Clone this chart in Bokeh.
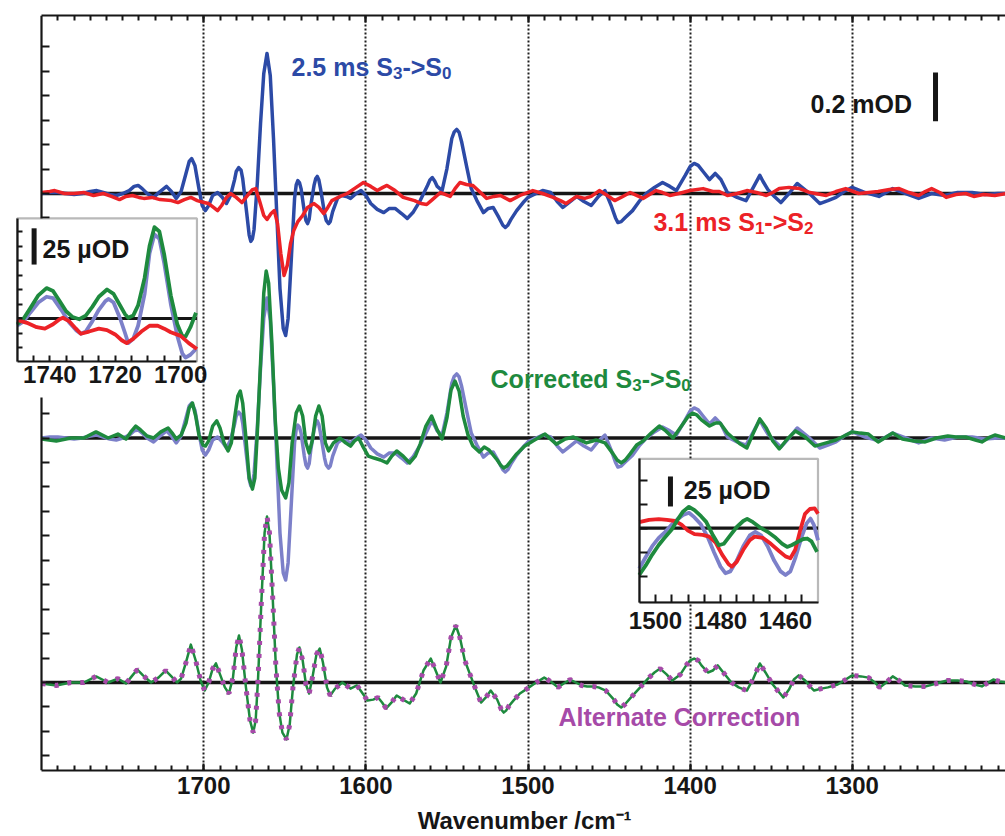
from bokeh.plotting import figure
from bokeh.models import Range1d, LinearAxis, FixedTicker, Grid, Label, BoxAnnotation
from bokeh.embed import file_html
from bokeh.resources import INLINE
from bokeh.core.properties import value

# ---------------------------------------------------------------------------
# Difference spectra: (wavenumber / cm-1, difference absorbance / mOD)
# ---------------------------------------------------------------------------
s3s0_2p5ms = [
    (1800, 0.000), (1795, 0.004), (1790, 0.004), (1785, 0.000), (1780, -0.004), (1775, 0.000),
    (1770, 0.008), (1766, 0.012), (1762, 0.004), (1758, -0.004), (1754, -0.008), (1750, 0.000),
    (1746, 0.012), (1743, 0.029), (1740.5, 0.033), (1738, 0.020), (1735, 0.000), (1731, -0.016),
    (1727, 0.008), (1723, 0.029), (1720, 0.008), (1717, -0.020), (1714, 0.008), (1711, 0.082),
    (1709, 0.131), (1707.5, 0.143), (1705.5, 0.115), (1703, 0.020), (1701, -0.049), (1699, -0.070),
    (1697, -0.049), (1694.5, -0.008), (1691.5, 0.004), (1688.5, -0.016), (1686, -0.041),
    (1683.5, -0.008), (1681, 0.057), (1680, 0.090), (1678.5, 0.106), (1677, 0.095), (1676, 0.061),
    (1673.5, -0.082), (1672, -0.170), (1671, -0.196), (1670, -0.185), (1669, -0.147), (1667, 0.041),
    (1665, 0.286), (1663, 0.491), (1661, 0.573), (1659, 0.483), (1657, 0.225), (1655, -0.082),
    (1653, -0.389), (1651, -0.552), (1649.5, -0.581), (1648, -0.511), (1646, -0.266),
    (1644, -0.020), (1643, 0.035), (1642, 0.053), (1641, 0.045), (1640, 0.020), (1638, -0.074),
    (1637, -0.110), (1636, -0.123), (1635, -0.105), (1634, -0.049), (1632, 0.033), (1631, 0.060),
    (1630, 0.070), (1629, 0.055), (1628, 0.020), (1625.5, -0.082), (1624.5, -0.110), (1623, -0.123),
    (1622, -0.115), (1620.5, -0.074), (1617.5, -0.020), (1615, -0.008), (1612, -0.012),
    (1609.5, -0.020), (1606, 0.000), (1603, 0.012), (1600, -0.008), (1597, -0.041), (1593, -0.065),
    (1589, -0.078), (1585.5, -0.061), (1582, -0.061), (1578, -0.082), (1574.5, -0.102),
    (1571, -0.078), (1566.5, -0.029), (1562, 0.033), (1560.5, 0.055), (1559, 0.065),
    (1557.5, 0.050), (1556, 0.029), (1553, 0.012), (1550, 0.102), (1547, 0.225), (1545.5, 0.252),
    (1544, 0.262), (1542.5, 0.250), (1541, 0.213), (1538, 0.115), (1535, 0.020), (1531.5, -0.029),
    (1527.5, -0.078), (1524.5, -0.061), (1521.5, -0.057), (1518, -0.098), (1515.5, -0.130),
    (1514, -0.139), (1512.5, -0.130), (1510.5, -0.106), (1507, -0.070), (1503, -0.037),
    (1500, -0.016), (1495, 0.000), (1491, 0.012), (1486, 0.004), (1482, -0.033), (1478.5, -0.057),
    (1474, -0.033), (1470, -0.012), (1465.5, -0.033), (1461, -0.049), (1456.5, -0.012),
    (1452.5, 0.012), (1448.5, -0.053), (1446, -0.100), (1444.5, -0.119), (1442.5, -0.115),
    (1440, -0.098), (1435.5, -0.070), (1431, -0.029), (1427, 0.000), (1422, 0.025), (1417, 0.045),
    (1412.5, 0.029), (1408.5, 0.012), (1403, 0.074), (1400, 0.110), (1397.5, 0.123), (1395, 0.115),
    (1392, 0.090), (1388, 0.057), (1384.5, 0.082), (1381, 0.057), (1377, 0.004), (1371, -0.016),
    (1365.5, -0.029), (1361, 0.025), (1357, 0.074), (1355, 0.049), (1352, 0.016), (1348, -0.012),
    (1344, -0.037), (1339, 0.000), (1334, 0.041), (1327, 0.004), (1320, -0.041), (1315, -0.029),
    (1310, -0.016), (1305, 0.008), (1300, 0.025), (1292, 0.004), (1283.5, -0.012), (1275, 0.020),
    (1267, 0.000), (1259, -0.020), (1251, 0.000), (1243, -0.008), (1235, 0.004), (1226, 0.004),
    (1218, -0.004), (1210, 0.000), (1205, 0.000),
]

s1s2_3p1ms = [
    (1800, 0.004), (1795, 0.008), (1792, 0.012), (1786, 0.000), (1780, 0.000), (1774, 0.004),
    (1768, -0.008), (1762, 0.000), (1757, -0.012), (1752, -0.025), (1748, -0.012), (1744, -0.008),
    (1740, -0.016), (1737, -0.020), (1732, -0.016), (1727, -0.025), (1720, -0.029), (1716, -0.037),
    (1712, -0.025), (1708, -0.016), (1704, -0.029), (1700, -0.037), (1697, -0.041), (1694, -0.057),
    (1691.5, -0.070), (1689, -0.049), (1686, -0.016), (1683.5, 0.000), (1680, -0.016),
    (1676.5, -0.037), (1673, -0.008), (1670, 0.016), (1668, 0.020), (1665.5, -0.033), (1663, -0.090),
    (1661, -0.106), (1658.5, -0.082), (1656.5, -0.070), (1654.5, -0.123), (1652.5, -0.245),
    (1650.5, -0.335), (1648.5, -0.294), (1646.5, -0.205), (1644.5, -0.151), (1642, -0.115),
    (1639, -0.090), (1636, -0.057), (1632, -0.041), (1629, -0.057), (1626, -0.082), (1623.5, -0.057),
    (1621, -0.029), (1616, -0.012), (1611.5, 0.000), (1606, 0.025), (1601.5, 0.045), (1597, 0.029),
    (1593, 0.012), (1589.5, 0.025), (1587, 0.033), (1582, 0.012), (1577, -0.016), (1570, -0.029),
    (1566, -0.041), (1562.5, -0.045), (1559, -0.025), (1554, 0.004), (1548, -0.012), (1545, 0.020),
    (1542, 0.045), (1538, 0.037), (1534, 0.033), (1530, 0.008), (1525.5, -0.020), (1521, -0.012),
    (1517, -0.008), (1511, -0.029), (1505, -0.008), (1497, 0.012), (1491, 0.000), (1484.5, -0.016),
    (1480, -0.029), (1476.5, -0.041), (1473, -0.025), (1470, -0.012), (1465, -0.020), (1461, -0.012),
    (1456, 0.012), (1451, -0.008), (1446.5, -0.029), (1441.5, -0.012), (1437, 0.004), (1433, -0.008),
    (1429, -0.020), (1425, -0.004), (1421, 0.012), (1417, 0.004), (1412.5, -0.008), (1407, 0.000),
    (1400, 0.012), (1392, 0.020), (1386, 0.008), (1382, 0.008), (1377, -0.008), (1371, 0.000),
    (1365, 0.012), (1359, 0.004), (1353, -0.008), (1349, 0.004), (1345, 0.020), (1339, 0.025),
    (1332.5, 0.020), (1326, 0.004), (1316, -0.008), (1310, 0.008), (1304, 0.020), (1296, 0.000),
    (1290, 0.004), (1284, 0.008), (1277, 0.016), (1271, 0.020), (1265, 0.004), (1259, -0.008),
    (1255, 0.008), (1251, 0.020), (1246, 0.004), (1242, -0.016), (1236, -0.004), (1230, 0.000),
    (1225, -0.012), (1219, -0.004), (1212, -0.008), (1205, 0.000),
]

corrected_s3s0 = [
    (1800, -0.004), (1791, -0.012), (1782, 0.000), (1774, 0.000), (1766.5, 0.025), (1759, 0.000),
    (1753, 0.016), (1748, -0.004), (1745, 0.025), (1742, 0.049), (1739, 0.033), (1735, 0.008),
    (1731, 0.000), (1726.5, 0.025), (1722, 0.041), (1719.5, 0.020), (1717, -0.004), (1714, 0.012),
    (1711, 0.061), (1709, 0.123), (1707, 0.143), (1705, 0.090), (1703, 0.012), (1700.5, -0.029),
    (1699, -0.033), (1697, -0.012), (1694.5, 0.049), (1692, 0.070), (1690, 0.041), (1687.5, -0.020),
    (1685, -0.053), (1683, -0.020), (1681, 0.082), (1679, 0.172), (1677.5, 0.192), (1676, 0.143),
    (1674, 0.000), (1672, -0.164), (1670, -0.209), (1668.5, -0.164), (1667, 0.020), (1665, 0.307),
    (1663, 0.593), (1661.5, 0.683), (1660, 0.634), (1658, 0.389), (1656, 0.082), (1654, -0.123),
    (1652, -0.213), (1649.5, -0.245), (1647.5, -0.184), (1645.5, -0.020), (1643, 0.102),
    (1641, 0.131), (1639, 0.090), (1637, -0.020), (1635, -0.061), (1633, -0.008), (1631, 0.090),
    (1629, 0.131), (1627, 0.090), (1625, -0.020), (1623, -0.053), (1620, -0.020), (1616, 0.000),
    (1612.5, -0.020), (1609.5, -0.033), (1607, -0.012), (1604.5, 0.000), (1602, -0.033),
    (1598.5, -0.074), (1595, -0.082), (1591, -0.090), (1587, -0.102), (1584, -0.074), (1581, -0.053),
    (1577, -0.074), (1573, -0.102), (1569.5, -0.074), (1566.5, -0.025), (1563, 0.049),
    (1559.5, 0.090), (1556, 0.033), (1553, -0.004), (1550, 0.082), (1547.5, 0.196), (1545, 0.233),
    (1542.5, 0.192), (1540, 0.090), (1537, 0.012), (1534, -0.033), (1530, -0.057), (1527, -0.037),
    (1524, -0.049), (1519, -0.090), (1517, -0.110), (1515, -0.123), (1513, -0.115), (1511, -0.098),
    (1507, -0.065), (1502, -0.033), (1497, -0.012), (1489.5, 0.016), (1482.5, -0.025),
    (1477, -0.004), (1472, 0.004), (1468, -0.008), (1464, -0.020), (1458, -0.008), (1452.5, -0.020),
    (1447.5, -0.065), (1445, -0.090), (1442.5, -0.102), (1440, -0.090), (1437, -0.065),
    (1433, -0.029), (1429, -0.012), (1424, 0.020), (1419, 0.049), (1415, 0.029), (1410.5, 0.000),
    (1404, 0.061), (1401, 0.090), (1398.5, 0.102), (1396, 0.095), (1393, 0.074), (1388, 0.049),
    (1384.5, 0.061), (1381.5, 0.061), (1377, 0.020), (1373.5, 0.000), (1369, -0.025),
    (1365, -0.041), (1361, 0.020), (1357, 0.078), (1353, 0.041), (1349, -0.012), (1345, -0.045),
    (1340, -0.004), (1335, 0.029), (1329, 0.004), (1323, -0.033), (1316, -0.020), (1310, -0.008),
    (1305, 0.008), (1300, 0.025), (1295, 0.020), (1290, 0.016), (1284, -0.016), (1279, 0.004),
    (1275, 0.020), (1269, -0.004), (1262, -0.012), (1255, -0.016), (1248, 0.000), (1241, 0.008),
    (1236, 0.004), (1230, 0.004), (1224, -0.008), (1220, -0.016), (1215, 0.004), (1212, 0.012),
    (1205, 0.000),
]

alternate_correction = [
    (1800, -0.004), (1791, -0.012), (1782, 0.000), (1774, 0.000), (1766.5, 0.025), (1759, 0.000),
    (1753, 0.016), (1748, -0.004), (1744.5, 0.025), (1741, 0.053), (1737.5, 0.029), (1732.5, 0.000),
    (1728, 0.020), (1723.5, 0.049), (1720, 0.025), (1716.5, 0.000), (1714, 0.016), (1711, 0.082),
    (1708, 0.155), (1705, 0.090), (1702, 0.008), (1699.5, -0.033), (1697, 0.000), (1694.5, 0.057),
    (1692.5, 0.078), (1690, 0.033), (1687, -0.020), (1684.5, -0.045), (1682, 0.020), (1680, 0.143),
    (1678.3, 0.192), (1676.5, 0.135), (1674, -0.020), (1671.5, -0.155), (1669.5, -0.205),
    (1668, -0.155), (1666.5, 0.020), (1664.5, 0.327), (1662.5, 0.613), (1661, 0.679),
    (1659.5, 0.613), (1657.5, 0.348), (1655.5, 0.061), (1653.5, -0.123), (1651.5, -0.205),
    (1649, -0.233), (1647, -0.172), (1645, -0.020), (1642.5, 0.115), (1641, 0.143), (1639, 0.090),
    (1637, -0.008), (1635, -0.045), (1633, 0.020), (1630.5, 0.115), (1628.5, 0.139), (1626.5, 0.082),
    (1624, -0.020), (1622, -0.053), (1619, -0.025), (1614.5, 0.000), (1609.5, -0.025),
    (1605.5, -0.012), (1602, -0.045), (1599, -0.074), (1595.5, -0.070), (1592.5, -0.061),
    (1590, -0.082), (1587.5, -0.106), (1584, -0.080), (1581, -0.053), (1577, -0.070), (1573, -0.086),
    (1569, -0.045), (1564.5, 0.049), (1560, 0.098), (1557, 0.049), (1554, 0.000), (1550.5, 0.065),
    (1547.5, 0.184), (1544.5, 0.233), (1542, 0.184), (1539, 0.090), (1535, 0.020), (1532, -0.033),
    (1529, -0.082), (1526, -0.061), (1523, -0.033), (1519, -0.070), (1516.5, -0.110),
    (1515, -0.123), (1513.5, -0.115), (1512, -0.098), (1509, -0.074), (1505, -0.045),
    (1500.5, -0.025), (1495, 0.000), (1490, 0.020), (1486, 0.004), (1481.5, -0.020), (1478, -0.004),
    (1474, 0.012), (1470.5, 0.000), (1467, -0.012), (1463.5, -0.016), (1460, -0.016),
    (1456.5, -0.020), (1452, -0.033), (1447, -0.070), (1445, -0.090), (1442.5, -0.102),
    (1440, -0.088), (1437, -0.065), (1431.5, -0.025), (1426, 0.016), (1422, 0.041), (1418.5, 0.057),
    (1414.5, 0.033), (1411, 0.008), (1406, 0.033), (1402, 0.074), (1400, 0.090), (1397.5, 0.098),
    (1395, 0.090), (1393, 0.070), (1389, 0.041), (1386, 0.049), (1383, 0.070), (1379, 0.037),
    (1374.5, 0.000), (1370, -0.020), (1365, -0.033), (1361, 0.016), (1357, 0.078), (1353.5, 0.041),
    (1349.5, -0.004), (1346, -0.033), (1342.5, -0.061), (1339, -0.029), (1336, 0.012),
    (1333, 0.029), (1329, 0.008), (1325.5, -0.020), (1323.5, -0.033), (1319, -0.025),
    (1315, -0.020), (1309, -0.008), (1304, 0.012), (1300, 0.029), (1294.5, 0.025), (1290, 0.020),
    (1286, 0.000), (1283, -0.020), (1279, 0.000), (1275, 0.025), (1271, 0.008), (1267.5, -0.012),
    (1261, -0.016), (1254.5, -0.016), (1248, -0.004), (1241.5, 0.008), (1235, 0.008),
    (1229.5, 0.004), (1224.5, -0.008), (1220, -0.016), (1216, 0.000), (1213, 0.012), (1209, 0.004),
    (1205, 0.000),
]

# Zoomed views (µOD)
zoom_hi_s3s0 = [
    (1750, -5), (1748, -2), (1746, 4), (1743.5, 11), (1741, 15), (1739, 14), (1736.5, 6), (1734, -3),
    (1732, -8), (1730.5, -10.5), (1729, -9), (1727, -2), (1725, 6), (1723, 12), (1722, 13.5),
    (1720.5, 11), (1718.5, 0), (1717, -10), (1716, -17), (1714.5, -14), (1713, -5), (1711, 17),
    (1709.5, 45), (1708, 58), (1706.5, 55), (1705, 38), (1703, 10), (1701, -12), (1699.5, -24),
    (1698.5, -27), (1697, -25), (1695.3, -21),
]
zoom_hi_corrected = [
    (1750, -4), (1748, 0), (1746, 7), (1743.5, 16), (1741, 21), (1739, 19), (1737, 12), (1735, 5),
    (1733, 1), (1731, -0.5), (1729, 2), (1727, 8), (1725, 15), (1722.5, 20), (1720.5, 17),
    (1718.5, 9), (1717, 3), (1716, 0.5), (1714.5, 2), (1713, 9), (1711, 28), (1709.5, 50), (1708, 63),
    (1706.5, 60), (1705, 44), (1703, 16), (1701, -4), (1699.5, -12), (1698.5, -12.5), (1697, -6),
    (1695.3, 4),
]
zoom_hi_s1s2 = [
    (1750, -1), (1747, -3), (1744, -6), (1741.5, -7), (1739, -4), (1737, -0.5), (1736, 0.5),
    (1734, -2), (1732, -7), (1730.5, -10.5), (1728, -9), (1725, -7), (1722.5, -8), (1720, -11),
    (1718, -15), (1716.5, -17), (1714.5, -14), (1712, -9), (1709.5, -5), (1707, -5), (1705, -7),
    (1703, -9.5), (1700, -12), (1697.5, -17), (1695, -21),
]
zoom_lo_s1s2 = [
    (1505, 5), (1502, 7), (1499, 7.5), (1496.5, 7), (1494, 6), (1492, 3), (1490, -2), (1488, -5),
    (1485.5, -5.5), (1483.5, -7), (1481.5, -12), (1479.5, -22), (1477.5, -30), (1476.5, -32),
    (1475, -28), (1473, -18), (1471, -10), (1469.5, -7), (1467, -8), (1464.5, -13), (1462, -19),
    (1460, -23.5), (1458.5, -25), (1457, -18), (1455.5, -2), (1454, 12), (1452.5, 16), (1451, 16.5),
    (1450, 12),
]
zoom_lo_s3s0 = [
    (1505, -33.6), (1503, -24), (1501, -15), (1499, -8), (1497, -3), (1495, 3), (1493, 8),
    (1491.5, 11), (1489.7, 12.8), (1488, 9), (1486, 3), (1484, -7), (1482, -20), (1480, -32),
    (1478.5, -37.5), (1477, -36), (1475, -27), (1473, -15), (1471, -6), (1469.3, -3), (1467.5, -6),
    (1465.5, -15), (1463.5, -27), (1461.5, -36), (1460, -39), (1458.5, -36), (1457, -25),
    (1455, -7), (1453.5, 4), (1452.3, 8), (1451.3, 3), (1450, -10),
]
zoom_lo_corrected = [
    (1505, -39), (1503, -31), (1501, -22), (1499, -14), (1497.4, -8.6), (1495, -1), (1493, 8),
    (1491.5, 14), (1489.7, 17.8), (1488, 15), (1486, 10), (1484.4, 5.3), (1482.5, -5),
    (1480.5, -14.2), (1479, -13), (1477, -6), (1475, 1), (1473, 6), (1471.8, 7.8), (1470, 5),
    (1467.5, 0), (1465.5, -3), (1463, -8), (1461, -13), (1459.5, -15.6), (1458, -14), (1456, -11),
    (1454.5, -9), (1453.3, -8.6), (1452, -11), (1450.3, -19.7),
]

# Stack offsets of the three rows (mOD) and axis ticks
ROW_TOP, ROW_MID, ROW_BOT = 2.0, 1.0, 0.0
MAJOR_WN = [1700, 1600, 1500, 1400, 1300]
MINOR_WN = list(range(1210, 1800, 10))
Y_TICKS = [round(-0.3 + 0.1 * i, 1) for i in range(30)]
SCALE_BAR_MOD = 0.2
SCALE_BAR_UOD = 25
X_TITLE = "Wavenumber /cm\u207b\u00b9"

HI_BOX = dict(wn=(1750, 1695), od=(-29.7, 69.0))
HI_TICKS_X = list(range(1700, 1750, 5))
HI_TICKS_Y = list(range(-20, 70, 10))
HI_LABELS = [1740, 1720, 1700]
LO_BOX = dict(wn=(1505, 1450), od=(-61.7, 57.8))
LO_TICKS_X = list(range(1455, 1505, 5))
LO_TICKS_Y = [-40, -20, 0, 20, 40]
LO_LABELS = [1500, 1480, 1460]

# ---------------------------------------------------------------------------
FONT = "Liberation Sans"
INK = "#161616"
BLUE = "#2c4aa6"
RED = "#ec2227"
GREEN = "#1e8a3e"
LAVENDER = "#7c80c9"
MAGENTA = "#a64aa8"

W, H = 1005, 836
FRAME_L, FRAME_R, FRAME_T, FRAME_B = 10, 1005, 15, 770
TEXT_LIFT = 9   # px, puts the alphabetic baseline where it is wanted


def split(pairs):
    return [a for a, _ in pairs], [b for _, b in pairs]


def x_range_for(ref, ref_px, px_per_unit):
    # wavenumber decreases to the right
    return Range1d(ref + (ref_px - FRAME_L) / px_per_unit, ref - (FRAME_R - ref_px) / px_per_unit)


def y_range_for(ref, ref_px, px_per_unit):
    return Range1d(ref - (FRAME_B - ref_px) / px_per_unit, ref + (ref_px - FRAME_T) / px_per_unit)


main_x = x_range_for(1800, 41.2, 1.621)
main_y = y_range_for(0.0, 682, 244.5)

p = figure(width=W, height=H, x_range=main_x, y_range=main_y,
           x_axis_type=None, y_axis_type=None,
           output_backend="svg", toolbar_location=None,
           min_border_left=FRAME_L, min_border_right=W - FRAME_R,
           min_border_top=FRAME_T, min_border_bottom=H - FRAME_B,
           outline_line_color=None, background_fill_color="white", border_fill_color="white")

p.extra_x_ranges = {"hi": x_range_for(1740, 49.3, 3.27), "lo": x_range_for(1500, 655, 3.25)}
p.extra_y_ranges = {"hi": y_range_for(0.0, 318, 1.45), "lo": y_range_for(0.0, 527.7, 1.2)}

wn_start = s3s0_2p5ms[0][0]
x_end = main_x.end


def hidden_labels(axis, ticks):
    axis.major_label_text_font_size = "0px"
    axis.major_label_standoff = 0
    axis.major_label_overrides = {t: "" for t in ticks}


# dotted vertical grid
p.add_layout(Grid(dimension=0, ticker=FixedTicker(ticks=MAJOR_WN), grid_line_color="#1e1e1e",
                  grid_line_dash="2 2", grid_line_width=2))

# main frame axes; the title is centred on the frame that starts at 1800 cm-1
pad = "\u00a0" * 5
xb = LinearAxis(ticker=FixedTicker(ticks=MAJOR_WN, minor_ticks=MINOR_WN), bounds=(x_end, wn_start),
                major_tick_in=7, major_tick_out=0, minor_tick_in=5, minor_tick_out=0,
                axis_line_width=2.2, major_tick_line_width=2, minor_tick_line_width=2,
                axis_line_color=INK, major_tick_line_color=INK, minor_tick_line_color=INK,
                major_label_text_font=FONT, major_label_text_font_style="bold",
                major_label_text_font_size="24px", major_label_text_color=INK,
                major_label_standoff=6,
                axis_label=pad + X_TITLE, axis_label_standoff=10,
                axis_label_text_font=FONT, axis_label_text_font_style="bold",
                axis_label_text_font_size="24px", axis_label_text_color=INK)
p.add_layout(xb, "below")

xt = LinearAxis(ticker=FixedTicker(ticks=MAJOR_WN, minor_ticks=MINOR_WN), bounds=(x_end, wn_start),
                major_tick_in=7, major_tick_out=0, minor_tick_in=5, minor_tick_out=0,
                axis_line_width=2.2, major_tick_line_width=2, minor_tick_line_width=2,
                axis_line_color=INK, major_tick_line_color=INK, minor_tick_line_color=INK)
hidden_labels(xt, MAJOR_WN)
p.add_layout(xt, "above")

yl = LinearAxis(ticker=FixedTicker(ticks=Y_TICKS), fixed_location=wn_start,
                major_tick_in=8, major_tick_out=0, minor_tick_in=0, minor_tick_out=0,
                axis_line_width=2.2, major_tick_line_width=2,
                axis_line_color=INK, major_tick_line_color=INK)
hidden_labels(yl, Y_TICKS)
p.add_layout(yl, "left")

# zero lines of the three rows
base_x = [s3s0_2p5ms[0][0], s3s0_2p5ms[-1][0]]
for row in (ROW_TOP, ROW_MID, ROW_BOT):
    p.line(base_x, [row, row], line_color=INK, line_width=3.5)

# top row: 2.5 ms S3->S0 and 3.1 ms S1->S2
wn, od = split(s3s0_2p5ms)
p.line(wn, [v + ROW_TOP for v in od], line_color=BLUE, line_width=3.5, line_join="round")
wn_r, od_r = split(s1s2_3p1ms)
p.line(wn_r, [v + ROW_TOP for v in od_r], line_color=RED, line_width=3.5, line_join="round")

# middle row: uncorrected (faint) under corrected
p.line(wn, [v + ROW_MID for v in od], line_color=LAVENDER, line_width=3.5, line_join="round")
wn_c, od_c = split(corrected_s3s0)
p.line(wn_c, [v + ROW_MID for v in od_c], line_color=GREEN, line_width=3.5, line_join="round")

# bottom row: alternate correction
wn_a, od_a = split(alternate_correction)
p.line(wn_a, [v + ROW_BOT for v in od_a], line_color=GREEN, line_width=2.5, line_join="round")
p.line(wn_a, [v + ROW_BOT for v in od_a], line_color=MAGENTA, line_width=5, line_dash="4 9",
       line_cap="butt")

# 0.2 mOD scale bar
BAR_WN = 1248.6
bar_lo = ROW_TOP + 0.295
p.segment(x0=[BAR_WN], y0=[bar_lo], x1=[BAR_WN], y1=[bar_lo + SCALE_BAR_MOD],
          line_color=INK, line_width=5)

# ---------------------------------------------------------------------------
ADV = {'0': .556, '1': .556, '2': .556, '3': .556, '4': .556, '5': .556, '6': .556, '7': .556,
       '8': .556, '9': .556, '.': .278, ' ': .278, 'm': .889, 's': .556, 'S': .667, '-': .333,
       '>': .584, 'C': .722, 'o': .611, 'r': .389, 'e': .556, 'c': .556, 't': .333, 'd': .611}


def text_width(s, size):
    return sum(ADV.get(c, .6) for c in s) * size


def label(x, y, text, color, size=25, dx=0.0, dy=0.0, rng=None, level="annotation"):
    kw = dict(x_range_name=rng, y_range_name=rng) if rng else {}
    p.add_layout(Label(x=x, y=y, text=text, x_offset=dx, y_offset=dy + TEXT_LIFT,
                       text_color=color, text_font=FONT, text_font_style="bold",
                       text_font_size=f"{size}px", text_baseline="alphabetic", text_align="left",
                       level=level, **kw))


def chem_label(x, y, parts, color, size=25, sub_size=17):
    dx = 0.0
    for text, sub in parts:
        fs = sub_size if sub else size
        label(x, y, text, color, size=fs, dx=dx, dy=-6 if sub else 0)
        dx += text_width(text, fs)


chem_label(1645.9, ROW_TOP + 0.48, [("2.5 ms S", False), ("3", True), ("->S", False), ("0", True)], BLUE)
chem_label(1422.6, ROW_TOP - 0.155, [("3.1 ms S", False), ("1", True), ("->S", False), ("2", True)], RED)
chem_label(1523.1, ROW_MID + 0.206, [("Corrected S", False), ("3", True), ("->S", False), ("0", True)], GREEN)
label(1481.2, ROW_BOT - 0.176, "Alternate Correction", MAGENTA)
label(1325.7, ROW_TOP + 0.331, "0.2 mOD", INK)


# ---------------------------------------------------------------------------
def inset(rng, box, ticks_x, ticks_y, tick_len, labels, label_od, curves, bar_wn, bar_mid,
          text_wn, text_od, label_bg=None):
    (w0, w1), (o0, o1) = box["wn"], box["od"]
    p.add_layout(BoxAnnotation(left=w0, right=w1, bottom=o0, top=o1, x_range_name=rng,
                               y_range_name=rng, fill_color="white", fill_alpha=1.0,
                               line_color=INK, line_width=2.2, level="annotation"))
    if label_bg is not None:
        p.add_layout(BoxAnnotation(left=w0, right=w1, bottom=label_bg, top=o0, x_range_name=rng,
                                   y_range_name=rng, fill_color="white", fill_alpha=1.0,
                                   line_color=None, level="annotation"))
    ax = LinearAxis(x_range_name=rng, y_range_name=rng, fixed_location=w0, bounds=(o0, o1),
                    ticker=FixedTicker(ticks=ticks_y), major_tick_in=tick_len[0], major_tick_out=0,
                    minor_tick_in=0, minor_tick_out=0, axis_line_width=2.2,
                    major_tick_line_width=2, axis_line_color=INK, major_tick_line_color=INK,
                    level="overlay")
    hidden_labels(ax, ticks_y)
    p.add_layout(ax, "left")
    bx = LinearAxis(x_range_name=rng, y_range_name=rng, fixed_location=o0, bounds=(w1, w0),
                    ticker=FixedTicker(ticks=ticks_x), major_tick_in=0, major_tick_out=tick_len[1],
                    minor_tick_in=0, minor_tick_out=0, axis_line_width=2.2,
                    major_tick_line_width=2, axis_line_color=INK, major_tick_line_color=INK,
                    level="overlay")
    hidden_labels(bx, ticks_x)
    p.add_layout(bx, "above")

    xs = [c[0][0][0] for c in curves] + [c[0][-1][0] for c in curves]
    p.line([max(xs), min(xs)], [0, 0], line_color=INK, line_width=3.2,
           x_range_name=rng, y_range_name=rng, level="overlay")
    for pairs, color in curves:
        cx, cy = split(pairs)
        p.line(cx, cy, line_color=color, line_width=3.8, line_join="round",
               x_range_name=rng, y_range_name=rng, level="overlay")

    p.text(x=labels, y=[label_od] * len(labels), text=[str(v) for v in labels],
           text_font=value(FONT), text_font_style="bold", text_font_size="24px",
           text_color=INK, text_align="center", text_baseline="alphabetic",
           x_range_name=rng, y_range_name=rng, level="overlay")

    half = SCALE_BAR_UOD / 2
    p.segment(x0=[bar_wn], y0=[bar_mid - half], x1=[bar_wn], y1=[bar_mid + half], line_color=INK,
              line_width=5, x_range_name=rng, y_range_name=rng, level="overlay")
    label(text_wn, text_od, "25 µOD", INK, size=25, rng=rng, level="overlay")


inset("hi", HI_BOX, HI_TICKS_X, HI_TICKS_Y, (5, 6), HI_LABELS, -38.5,
      [(zoom_hi_s3s0, LAVENDER), (zoom_hi_corrected, GREEN), (zoom_hi_s1s2, RED)],
      1744.8, 49.7, 1742.2, 41.4, label_bg=-54.5)
inset("lo", LO_BOX, LO_TICKS_X, LO_TICKS_Y, (8, 8), LO_LABELS, -77.0,
      [(zoom_lo_s3s0, LAVENDER), (zoom_lo_s1s2, RED), (zoom_lo_corrected, GREEN)],
      1495.4, 30.6, 1491.3, 24.5)

open("out.html", "w").write(file_html(p, INLINE))
